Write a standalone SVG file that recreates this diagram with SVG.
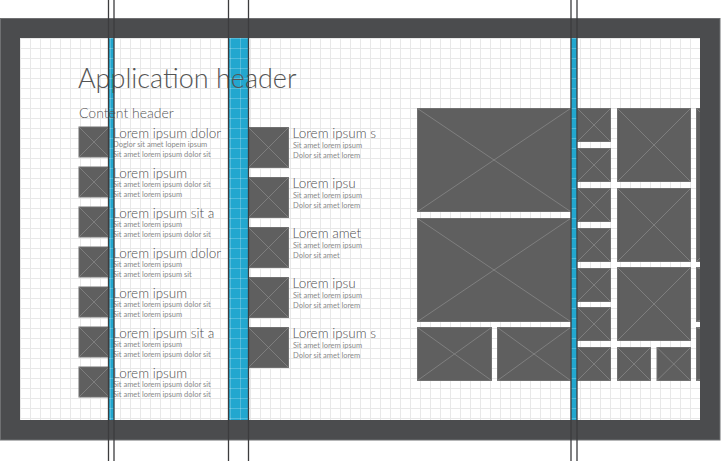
<svg xmlns="http://www.w3.org/2000/svg" width="722" height="461" viewBox="0 0 722 461">
<style>
.frame{fill:#4b4c4e;stroke:#6f7072;stroke-width:1}
.tile{fill:#5f5f5f;stroke:#717171;stroke-width:1}
.x{stroke:#8c8c8c;stroke-width:0.7;fill:none}
.blue{fill:#22a7cf}
.guide{stroke:#3c3c3e;stroke-width:1.3}
.h1{font-family:Lato,"Liberation Sans",sans-serif;font-weight:300;font-size:27px;fill:#555}
.h2{font-family:Lato,"Liberation Sans",sans-serif;font-weight:300;font-size:14px;fill:#555}
.t{font-family:Lato,"Liberation Sans",sans-serif;font-weight:300;font-size:13.5px;fill:#4f4f4f}
.s{font-family:Lato,"Liberation Sans",sans-serif;font-size:7.5px;fill:#8a8a8a}
</style>
<defs>
<pattern id="grid" x="20" y="38" width="10" height="10" patternUnits="userSpaceOnUse">
<path d="M0.5 0V10M0 0.5H10" stroke="#e8e8e8" stroke-width="1" fill="none"/>
</pattern>
<pattern id="gridb" x="20" y="38" width="10" height="10" patternUnits="userSpaceOnUse">
<path d="M0.5 0V10M0 0.5H10" stroke="#ffffff" stroke-opacity="0.22" stroke-width="1" fill="none"/>
</pattern>
<clipPath id="inner"><rect x="20" y="38" width="680" height="382"/></clipPath>
</defs>
<rect class="frame" x="0.5" y="18.5" width="719.5" height="421.5"/>
<rect x="20" y="38" width="680" height="382" fill="#fff"/>
<rect x="20" y="38" width="680" height="382" fill="url(#grid)"/>
<g id="columns">
<rect class="blue" x="109" y="38" width="5" height="382"/>
<rect class="blue" x="229" y="38" width="19.5" height="382"/>
<rect class="blue" x="571" y="38" width="6" height="382"/>
<rect x="109" y="38" width="5" height="382" fill="url(#gridb)"/>
<rect x="229" y="38" width="19.5" height="382" fill="url(#gridb)"/>
<rect x="571" y="38" width="6" height="382" fill="url(#gridb)"/>
</g>
<g id="headers">
<text class="h1" x="78" y="88">Application header</text>
<text class="h2" x="79" y="118">Content header</text>
</g>
<g id="list-left">
<g id="l1"><rect class="tile" x="79" y="127" width="30" height="30"/><path class="x" d="M79 127L109 157M109 127L79 157"/><text class="t" x="113" y="137.5">Lorem ipsum dolor</text><text class="s" x="113" y="147.3">Doglor sit amet lopem ipsum</text><text class="s" x="113" y="156.7">Sit amet lorem ipsum dolor sit</text></g>
<g id="l2"><rect class="tile" x="79" y="167" width="30" height="30"/><path class="x" d="M79 167L109 197M109 167L79 197"/><text class="t" x="113" y="177.5">Lorem ipsum</text><text class="s" x="113" y="187.3">Sit amet lorem ipsum dolor sit</text><text class="s" x="113" y="196.7">Sit amet lorem ipsum</text></g>
<g id="l3"><rect class="tile" x="79" y="207" width="30" height="30"/><path class="x" d="M79 207L109 237M109 207L79 237"/><text class="t" x="113" y="217.5">Lorem ipsum sit a</text><text class="s" x="113" y="227.3">Sit amet lorem ipsum</text><text class="s" x="113" y="236.7">Sit amet lorem ipsum dolor sit</text></g>
<g id="l4"><rect class="tile" x="79" y="247" width="30" height="30"/><path class="x" d="M79 247L109 277M109 247L79 277"/><text class="t" x="113" y="257.5">Lorem ipsum dolor</text><text class="s" x="113" y="267.3">Sit amet lorem ipsum</text><text class="s" x="113" y="276.7">Sit amet lorem ipsum sit</text></g>
<g id="l5"><rect class="tile" x="79" y="287" width="30" height="30"/><path class="x" d="M79 287L109 317M109 287L79 317"/><text class="t" x="113" y="297.5">Lorem ipsum</text><text class="s" x="113" y="307.3">Sit amet lorem ipsum dolor sit</text><text class="s" x="113" y="316.7">Sit amet lorem ipsum</text></g>
<g id="l6"><rect class="tile" x="79" y="327" width="30" height="30"/><path class="x" d="M79 327L109 357M109 327L79 357"/><text class="t" x="113" y="337.5">Lorem ipsum sit a</text><text class="s" x="113" y="347.3">Sit amet lorem ipsum</text><text class="s" x="113" y="356.7">Sit amet lorem ipsum dolor sit</text></g>
<g id="l7"><rect class="tile" x="79" y="367" width="30" height="30"/><path class="x" d="M79 367L109 397M109 367L79 397"/><text class="t" x="113" y="377.5">Lorem ipsum</text><text class="s" x="113" y="387.3">Sit amet lorem ipsum dolor sit</text><text class="s" x="113" y="396.7">Sit amet lorem ipsum dolor sit</text></g>
</g>
<g id="list-mid">
<g id="m1"><rect class="tile" x="248.5" y="127.5" width="40" height="40"/><path class="x" d="M248.5 127.5L288.5 167.5M288.5 127.5L248.5 167.5"/><text class="t" x="292.5" y="138">Lorem ipsum s</text><text class="s" x="293" y="147.5">Sit amet lorem ipsum</text><text class="s" x="293" y="157.5">Dolor sit amet lorem</text></g>
<g id="m2"><rect class="tile" x="248.5" y="177.5" width="40" height="40"/><path class="x" d="M248.5 177.5L288.5 217.5M288.5 177.5L248.5 217.5"/><text class="t" x="292.5" y="188">Lorem ipsu</text><text class="s" x="293" y="197.5">Sit amet lorem ipsum</text><text class="s" x="293" y="207.5">Dolor sit amet lorem</text></g>
<g id="m3"><rect class="tile" x="248.5" y="227.5" width="40" height="40"/><path class="x" d="M248.5 227.5L288.5 267.5M288.5 227.5L248.5 267.5"/><text class="t" x="292.5" y="238">Lorem amet</text><text class="s" x="293" y="247.5">Sit amet lorem ipsum</text><text class="s" x="293" y="257.5">Dolor sit amet</text></g>
<g id="m4"><rect class="tile" x="248.5" y="277.5" width="40" height="40"/><path class="x" d="M248.5 277.5L288.5 317.5M288.5 277.5L248.5 317.5"/><text class="t" x="292.5" y="288">Lorem ipsu</text><text class="s" x="293" y="297.5">Sit amet lorem ipsum</text><text class="s" x="293" y="307.5">Dolor sit amet lorem</text></g>
<g id="m5"><rect class="tile" x="248.5" y="327.5" width="40" height="40"/><path class="x" d="M248.5 327.5L288.5 367.5M288.5 327.5L248.5 367.5"/><text class="t" x="292.5" y="338">Lorem ipsum s</text><text class="s" x="293" y="347.5">Sit amet lorem ipsum</text><text class="s" x="293" y="357.5">Dolor sit amet lorem</text></g>
</g>
<g id="tiles" clip-path="url(#inner)">
<g id="big1"><rect class="tile" x="417.5" y="108.5" width="153" height="103"/><path class="x" d="M417.5 108.5L570.5 211.5M570.5 108.5L417.5 211.5"/></g>
<g id="big2"><rect class="tile" x="417.5" y="218.5" width="153" height="103"/><path class="x" d="M417.5 218.5L570.5 321.5M570.5 218.5L417.5 321.5"/></g>
<g id="wide1"><rect class="tile" x="417.5" y="327.5" width="74" height="53"/><path class="x" d="M417.5 327.5L491.5 380.5M491.5 327.5L417.5 380.5"/></g>
<g id="wide2"><rect class="tile" x="497.5" y="327.5" width="73" height="53"/><path class="x" d="M497.5 327.5L570.5 380.5M570.5 327.5L497.5 380.5"/></g>
<g id="s1"><rect class="tile" x="577.5" y="108.5" width="33" height="33"/><path class="x" d="M577.5 108.5L610.5 141.5M610.5 108.5L577.5 141.5"/></g>
<g id="s2"><rect class="tile" x="577.5" y="148.5" width="33" height="33"/><path class="x" d="M577.5 148.5L610.5 181.5M610.5 148.5L577.5 181.5"/></g>
<g id="s3"><rect class="tile" x="577.5" y="188.5" width="33" height="33"/><path class="x" d="M577.5 188.5L610.5 221.5M610.5 188.5L577.5 221.5"/></g>
<g id="s4"><rect class="tile" x="577.5" y="228.5" width="33" height="33"/><path class="x" d="M577.5 228.5L610.5 261.5M610.5 228.5L577.5 261.5"/></g>
<g id="s5"><rect class="tile" x="577.5" y="268.5" width="33" height="33"/><path class="x" d="M577.5 268.5L610.5 301.5M610.5 268.5L577.5 301.5"/></g>
<g id="s6"><rect class="tile" x="577.5" y="307.5" width="33" height="33"/><path class="x" d="M577.5 307.5L610.5 340.5M610.5 307.5L577.5 340.5"/></g>
<g id="s7"><rect class="tile" x="577.5" y="347.5" width="33" height="33"/><path class="x" d="M577.5 347.5L610.5 380.5M610.5 347.5L577.5 380.5"/></g>
<g id="med1"><rect class="tile" x="617.5" y="108.5" width="73" height="73"/><path class="x" d="M617.5 108.5L690.5 181.5M690.5 108.5L617.5 181.5"/></g>
<g id="med2"><rect class="tile" x="617.5" y="188.5" width="73" height="73"/><path class="x" d="M617.5 188.5L690.5 261.5M690.5 188.5L617.5 261.5"/></g>
<g id="med3"><rect class="tile" x="617.5" y="267.5" width="73" height="73"/><path class="x" d="M617.5 267.5L690.5 340.5M690.5 267.5L617.5 340.5"/></g>
<g id="s8"><rect class="tile" x="617.5" y="347.5" width="33" height="33"/><path class="x" d="M617.5 347.5L650.5 380.5M650.5 347.5L617.5 380.5"/></g>
<g id="s9"><rect class="tile" x="657" y="347.5" width="33.5" height="33"/><path class="x" d="M657 347.5L690.5 380.5M690.5 347.5L657 380.5"/></g>
<g id="r1"><rect class="tile" x="696.5" y="108.5" width="153" height="153"/><path class="x" d="M696.5 108.5L849.5 261.5M849.5 108.5L696.5 261.5"/></g>
<g id="r2"><rect class="tile" x="696.5" y="267.5" width="153" height="54"/><path class="x" d="M696.5 267.5L849.5 321.5M849.5 267.5L696.5 321.5"/></g>
<g id="r3"><rect class="tile" x="696.5" y="327.5" width="153" height="53"/><path class="x" d="M696.5 327.5L849.5 380.5M849.5 327.5L696.5 380.5"/></g>
</g>
<g id="guides">
<line class="guide" x1="108.5" y1="0" x2="108.5" y2="461"/>
<line class="guide" x1="114" y1="0" x2="114" y2="461"/>
<line class="guide" x1="228.5" y1="0" x2="228.5" y2="461"/>
<line class="guide" x1="248.5" y1="0" x2="248.5" y2="461"/>
<line class="guide" x1="571" y1="0" x2="571" y2="461"/>
<line class="guide" x1="577" y1="0" x2="577" y2="461"/>
</g>
</svg>
